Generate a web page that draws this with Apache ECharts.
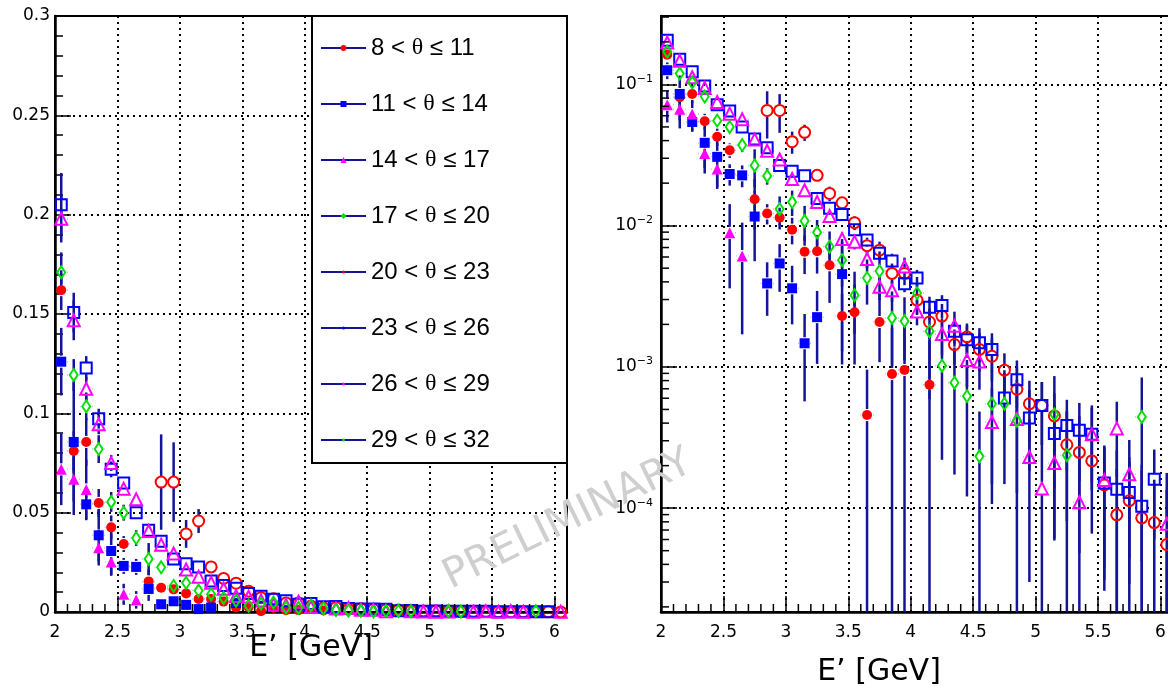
<!DOCTYPE html>
<html><head><meta charset="utf-8">
<script src="https://cdn.jsdelivr.net/npm/echarts@6/dist/echarts.min.js"></script>
<style>html,body{margin:0;padding:0;background:#fff}#c{width:1168px;height:686px}</style>
</head><body><div id="c"></div>
<script>
// ---------------- data ----------------
const binCenters = [2.05,2.15,2.25,2.35,2.45,2.55,2.65,2.75,2.85,2.95,
  3.05,3.15,3.25,3.35,3.45,3.55,3.65,3.75,3.85,3.95,
  4.05,4.15,4.25,4.35,4.45,4.55,4.65,4.75,4.85,4.95,
  5.05,5.15,5.25,5.35,5.45,5.55,5.65,5.75,5.85,5.95,
  6.05];
const seriesNames = ['8 < θ ≤ 11','11 < θ ≤ 14','14 < θ ≤ 17','17 < θ ≤ 20',
  '20 < θ ≤ 23','23 < θ ≤ 26','26 < θ ≤ 29','29 < θ ≤ 32'];

const vals_08_11 = [0.162,0.081,0.0856,0.0549,0.0426,0.0342,null,0.0154,0.0122,0.0114,
  0.00937,0.00654,0.00658,0.00524,0.00229,0.00244,0.000456,0.00208,0.00089,0.00095,
  null,0.000748,null,null,null,null,null,null,null,null,
  null,null,null,null,null,null,null,null,null,null,
  null];
const errs_08_11 = [0.01,0.01,0.012,0.007,0.006,0.004,null,0.006,0.002,0.002,
  0.002,0.002,0.002,0.0024,0.001,0.0014,0.0005,0.001,0.001,0.001,
  null,0.0008,null,null,null,null,null,null,null,null,
  null,null,null,null,null,null,null,null,null,null,
  null];

const vals_11_14 = [0.126,0.0856,0.0542,0.0386,0.0307,0.0232,0.0227,0.0116,0.0039,0.0054,
  0.0036,0.00147,0.00225,null,0.00454,null,null,null,null,null,
  null,null,null,null,null,null,null,null,null,null,
  null,null,null,null,null,null,null,null,null,null,
  null];
const errs_11_14 = [0.017,0.03,0.008,0.013,0.012,0.004,0.004,0.006,0.0016,0.002,
  0.0016,0.0009,0.0012,null,0.0035,null,null,null,null,null,
  null,null,null,null,null,null,null,null,null,null,
  null,null,null,null,null,null,null,null,null,null,
  null];

const vals_14_17 = [0.0718,0.0668,0.0617,0.0324,0.0252,0.0089,0.0061,null,null,null,
  null,null,null,null,null,null,null,null,null,null,
  null,null,null,null,null,null,null,null,null,null,
  null,null,null,null,null,null,null,null,null,null,
  null];
const errs_14_17 = [0.018,0.018,0.015,0.009,0.007,0.0053,0.0044,null,null,null,
  null,null,null,null,null,null,null,null,null,null,
  null,null,null,null,null,null,null,null,null,null,
  null,null,null,null,null,null,null,null,null,null,
  null];

const vals_17_20 = [null,null,null,null,null,null,null,null,null,null,
  null,null,null,null,null,null,null,null,null,null,
  null,null,null,null,null,null,null,null,null,null,
  null,null,null,null,null,null,null,null,null,null,
  null];
const errs_17_20 = [null,null,null,null,null,null,null,null,null,null,
  null,null,null,null,null,null,null,null,null,null,
  null,null,null,null,null,null,null,null,null,null,
  null,null,null,null,null,null,null,null,null,null,
  null];

const vals_20_23 = [null,null,null,null,null,null,null,null,0.0654,0.0654,
  0.0393,0.0458,0.0227,0.0169,0.0145,0.0105,0.00722,0.00671,0.00459,0.00459,
  0.00297,0.00208,0.00229,0.00144,0.00163,0.00133,0.00119,0.000948,0.000695,0.000548,
  0.000532,0.00045,0.000281,0.000248,0.000216,0.000146,0.0000897,0.000113,0.0000853,0.000079,
  0.0000552];
const errs_20_23 = [null,null,null,null,null,null,null,null,0.024,0.02,
  0.007,0.006,0.002,0.002,0.0015,0.0012,0.001,0.001,0.0008,0.0008,
  0.0006,0.0005,0.0005,0.0004,0.0004,0.0004,0.0004,0.0003,0.0003,0.00025,
  0.00025,0.0002,0.0002,0.0002,0.00015,0.00012,0.0001,0.0001,0.0001,0.00008,
  0.00008];

const vals_23_26 = [0.205,0.1507,0.1228,0.0973,0.0718,0.0649,0.050,0.0411,0.0356,0.0267,
  0.0243,0.0226,0.0156,0.0133,0.0120,0.00937,0.00792,0.00639,0.00563,0.00388,
  0.00426,0.00264,0.00272,0.00179,0.00156,0.00148,0.00133,0.000603,0.000811,0.000434,
  0.000532,0.000338,0.000385,0.000356,0.000334,0.000151,0.000136,0.000129,0.000103,0.00016,
  null];
const errs_23_26 = [0.016,0.01,0.006,0.005,0.004,0.003,0.003,0.003,0.002,0.002,
  0.002,0.0015,0.0012,0.001,0.001,0.0009,0.0008,0.0007,0.0007,0.0005,
  0.0006,0.0005,0.0005,0.0004,0.0004,0.0004,0.0004,0.0003,0.0003,0.00025,
  0.00025,0.0002,0.0002,0.0002,0.00018,0.00012,0.00012,0.0001,0.0001,0.0001,
  null];

const vals_26_29 = [0.198,0.1468,0.1124,0.0945,0.075,0.0621,0.0567,0.0408,0.0339,0.0294,
  0.0214,0.0178,0.0147,0.0117,0.00804,0.00769,0.00581,0.0037,0.00349,0.00514,
  0.00247,null,0.00171,0.00196,0.00112,0.00109,0.000407,null,0.000428,0.00023,
  0.000138,0.000209,null,0.00011,0.000334,0.000158,0.000367,0.000174,null,null,
  0.0000776];
const errs_26_29 = [0.012,0.01,0.006,0.005,0.004,0.003,0.003,0.003,0.002,0.002,
  0.002,0.0015,0.0012,0.001,0.0009,0.0009,0.0008,0.0006,0.0006,0.0008,
  0.0005,null,0.0005,0.0005,0.0004,0.0004,0.0003,null,0.0003,0.0002,
  0.00015,0.00015,null,0.00012,0.0002,0.00012,0.0002,0.00013,null,null,
  0.0001];

const vals_29_32 = [0.171,0.1193,0.1035,0.082,0.0554,0.050,0.0372,0.0267,0.0225,0.0131,
  0.0147,0.0108,0.00897,0.0071,0.0057,0.00322,0.00426,0.00477,0.00222,0.00211,
  0.00333,0.00179,0.00102,0.000773,0.000621,0.000233,0.000548,0.000548,0.000415,null,
  null,0.000461,0.000237,null,null,null,null,null,0.000442,null,
  null];
const errs_29_32 = [0.01,0.008,0.007,0.007,0.005,0.004,0.004,0.008,0.003,0.003,
  0.003,0.003,0.002,0.002,0.002,0.0015,0.0015,0.0018,0.0012,0.001,
  0.001,0.0012,0.0008,0.0006,0.0005,0.00025,0.0004,0.0004,0.0004,null,
  null,0.0004,0.00025,null,null,null,null,null,0.0004,null,
  null];

// axis tick values
const xMinorTicks = [2.1,2.2,2.3,2.4,2.6,2.7,2.8,2.9,3.1,3.2,3.3,3.4,3.6,3.7,3.8,3.9,
  4.1,4.2,4.3,4.4,4.6,4.7,4.8,4.9,5.1,5.2,5.3,5.4,5.6,5.7,5.8,5.9];
const logMinorTicks = [2e-5,3e-5,4e-5,5e-5,6e-5,7e-5,8e-5,9e-5,
  2e-4,3e-4,4e-4,5e-4,6e-4,7e-4,8e-4,9e-4,
  2e-3,3e-3,4e-3,5e-3,6e-3,7e-3,8e-3,9e-3,
  2e-2,3e-2,4e-2,5e-2,6e-2,7e-2,8e-2,9e-2,
  2e-1,3e-1];

// ---------------- styling ----------------
const allVals = [vals_08_11,vals_11_14,vals_14_17,vals_17_20,vals_20_23,vals_23_26,vals_26_29,vals_29_32];
const allErrs = [errs_08_11,errs_11_14,errs_14_17,errs_17_20,errs_20_23,errs_23_26,errs_26_29,errs_29_32];
const NAVY = '#14149a';
const RED = '#ff0000', BLUE = '#0000ff', MAG = '#ff00ff', GRN = '#00e000';
const markStyles = [
  {symbol:'circle', size:10, color:RED, filled:true},
  {symbol:'rect', size:10, color:BLUE, filled:true},
  {symbol:'triangle', size:11, color:MAG, filled:true},
  {symbol:'diamond', size:[8,12], color:GRN, filled:true},
  {symbol:'circle', size:11, color:RED, filled:false},
  {symbol:'rect', size:11, color:BLUE, filled:false},
  {symbol:'triangle', size:12, color:MAG, filled:false},
  {symbol:'diamond', size:[8,12], color:GRN, filled:false}
];
const X_MIN = 2, X_MAX = 6.1;
const LOG_MIN = 1.84e-5, LOG_MAX = 0.305;
const LABEL_FONT = 'DejaVu Sans';

const chart = echarts.init(document.getElementById('c'));

function errRender(isLog) {
  return function (params, api) {
    const x = api.value(0), y = api.value(1), e = api.value(2);
    let lo = y - e, hi = y + e;
    if (isLog && lo < LOG_MIN) lo = LOG_MIN;
    const pc = api.coord([x, y]);
    const pt = api.coord([x, hi]);
    const pb = api.coord([x, lo]);
    const pl = api.coord([x - 0.05, y]);
    const pr = api.coord([x + 0.05, y]);
    const gap = 6;
    const ch = [];
    if (pt[1] < pc[1] - gap) ch.push({type:'line', shape:{x1:pc[0], y1:pt[1], x2:pc[0], y2:pc[1]-gap}, style:{stroke:NAVY, lineWidth:2.5}});
    if (pb[1] > pc[1] + gap) ch.push({type:'line', shape:{x1:pc[0], y1:pc[1]+gap, x2:pc[0], y2:pb[1]}, style:{stroke:NAVY, lineWidth:2.5}});
    ch.push({type:'line', shape:{x1:pl[0], y1:pc[1], x2:pc[0]-gap, y2:pc[1]}, style:{stroke:NAVY, lineWidth:1.5, lineDash:[2,2]}});
    ch.push({type:'line', shape:{x1:pc[0]+gap, y1:pc[1], x2:pr[0], y2:pc[1]}, style:{stroke:NAVY, lineWidth:1.5, lineDash:[2,2]}});
    return {type:'group', children: ch};
  };
}

const errData = [];
for (let s = 0; s < allVals.length; s++) {
  for (let i = 0; i < binCenters.length; i++) {
    if (allVals[s][i] != null && allErrs[s][i] != null) errData.push([binCenters[i], allVals[s][i], allErrs[s][i]]);
  }
}

const series = [];
[0, 1].forEach(function (p) {
  series.push({
    type:'custom', name:'err'+p, xAxisIndex:p, yAxisIndex:p, data:errData,
    encode:{x:0, y:1}, renderItem: errRender(p === 1), clip:true, silent:true, z:3
  });
  allVals.forEach(function (vals, s) {
    const st = markStyles[s];
    const data = [];
    vals.forEach(function (v, i) { if (v != null) data.push([binCenters[i], v]); });
    series.push({
      type:'scatter', name:seriesNames[s], xAxisIndex:p, yAxisIndex:p, data:data,
      symbol:st.symbol, symbolSize:st.size, silent:true, z:4,
      itemStyle: st.filled ? {color:st.color, opacity:1}
                           : {color:'rgba(255,255,255,0)', borderColor:st.color, borderWidth:2, opacity:1}
    });
  });
  // x minor ticks
  series.push({
    type:'custom', name:'xminor'+p, xAxisIndex:p, yAxisIndex:p,
    data: xMinorTicks.map(function (v) { return [v, p === 0 ? 0 : LOG_MIN]; }),
    encode:{x:0, y:1}, clip:false, silent:true, z:5,
    renderItem: function (params, api) {
      const pt = api.coord([api.value(0), api.value(1)]);
      return {type:'line', shape:{x1:pt[0], y1:pt[1], x2:pt[0], y2:pt[1]-8}, style:{stroke:'#000', lineWidth:1.5}};
    }
  });
});
// log-axis minor ticks
series.push({
  type:'custom', name:'yminor', xAxisIndex:1, yAxisIndex:1,
  data: logMinorTicks.map(function (v) { return [X_MIN, v]; }),
  encode:{x:0, y:1}, clip:false, silent:true, z:5,
  renderItem: function (params, api) {
    const pt = api.coord([api.value(0), api.value(1)]);
    return {type:'line', shape:{x1:pt[0], y1:pt[1], x2:pt[0]+8, y2:pt[1]}, style:{stroke:'#000', lineWidth:1.5}};
  }
});

const axisLineStyle = {show:true, onZero:false, lineStyle:{color:'#000', width:2.5}};
const splitStyle = {show:true, lineStyle:{color:'#000', width:2, type:[2,4]}};
const tickStyle = {show:true, inside:true, length:16, lineStyle:{color:'#000', width:1.5}};
const labelBase = {fontFamily:LABEL_FONT, fontSize:17, color:'#000'};

function xAxisCfg(idx, nameGap, namePad) {
  return {
    gridIndex:idx, type:'value', min:X_MIN, max:X_MAX, interval:0.5,
    axisLine:axisLineStyle, axisTick:tickStyle, splitLine:splitStyle,
    axisLabel:Object.assign({margin:12, showMaxLabel:false}, labelBase),
    name:'E’ [GeV]', nameLocation:'middle', nameGap:nameGap, nameMoveOverlap:false,
    nameTextStyle:{fontFamily:'DejaVu Sans', fontSize:30, color:'#000', padding:namePad}
  };
}

const legendText = {fontFamily:'Liberation Sans', fontSize:24, lineHeight:24};
function legendFmt(n) { return n.replace('θ', '{t|θ}'); }

const option = {
  animation:false,
  backgroundColor:'#fff',
  grid:[
    {left:55, top:16, width:512, height:596, show:true, borderColor:'#000', borderWidth:2,
     backgroundColor:'transparent', containLabel:false, outerBoundsMode:'none'},
    {left:661, top:16, width:512, height:596, show:true, borderColor:'#000', borderWidth:2,
     backgroundColor:'transparent', containLabel:false, outerBoundsMode:'none'}
  ],
  xAxis:[ xAxisCfg(0, 21, [0,0,0,0]), xAxisCfg(1, 45, [0,76,0,0]) ],
  yAxis:[
    {gridIndex:0, type:'value', min:0, max:0.3, interval:0.05,
     axisLine:axisLineStyle, axisTick:tickStyle,
     minorTick:{show:true, splitNumber:5, length:8, lineStyle:{color:'#000', width:1.5}},
     splitLine:splitStyle, axisLabel:Object.assign({margin:5}, labelBase)},
    {gridIndex:1, type:'log', logBase:10, min:LOG_MIN, max:LOG_MAX,
     axisLine:axisLineStyle, axisTick:tickStyle, splitLine:splitStyle,
     axisLabel:{margin:8, color:'#000',
       formatter:function (v) {
         const l = Math.log10(v), e = Math.round(l);
         if (Math.abs(l - e) > 1e-6) return '';
         return '{b|10}{s|−' + (-e) + '}';
       },
       rich:{b:{fontFamily:LABEL_FONT, fontSize:17, lineHeight:22, color:'#000'},
             s:{fontFamily:LABEL_FONT, fontSize:11, lineHeight:22, verticalAlign:'top', color:'#000'}}
     }}
  ],
  legend:[
    {data:seriesNames.map(function (n) { return {name:n}; }), orient:'vertical', left:321, top:36,
     padding:0, itemWidth:45, itemHeight:2, itemGap:32, icon:'rect', selectedMode:false, z:10,
     itemStyle:{color:NAVY, borderWidth:0, borderColor:NAVY},
     formatter:legendFmt,
     textStyle:Object.assign({color:'#000', rich:{t:{fontFamily:'Liberation Serif', fontSize:24, lineHeight:24, color:'#000'}}}, legendText)},
    {data:seriesNames.slice(0,4).map(function (n, k) {
       return {name:n, icon:markStyles[k].symbol, itemStyle:{color:markStyles[k].color, borderWidth:0}}; }),
     orient:'vertical', left:340.5, top:36, padding:0, itemWidth:6, itemHeight:6, itemGap:32,
     selectedMode:false, z:11, formatter:legendFmt,
     textStyle:Object.assign({color:'rgba(0,0,0,0)', rich:{t:{fontFamily:'Liberation Serif', fontSize:24, lineHeight:24, color:'rgba(0,0,0,0)'}}}, legendText)},
    {data:seriesNames.slice(4).map(function (n, k) {
       return {name:n, icon:'circle', itemStyle:{color:markStyles[k+4].color, borderWidth:0}}; }),
     orient:'vertical', left:342, top:260, padding:0, itemWidth:3, itemHeight:3, itemGap:32,
     selectedMode:false, z:11, formatter:legendFmt,
     textStyle:Object.assign({color:'rgba(0,0,0,0)', rich:{t:{fontFamily:'Liberation Serif', fontSize:24, lineHeight:24, color:'rgba(0,0,0,0)'}}}, legendText)}
  ],
  graphic:[
    {type:'rect', z:6, shape:{x:312, y:16, width:255, height:447},
     style:{fill:'#fff', stroke:'#000', lineWidth:2}},
    {type:'text', z:20, x:568, y:520, rotation:26*Math.PI/180,
     style:{text:'PRELIMINARY', fontFamily:'DejaVu Sans', fontSize:41, fill:'#cfcfcf', align:'center', verticalAlign:'middle'}}
  ],
  series:series
};
chart.setOption(option);
</script>
</body></html>
